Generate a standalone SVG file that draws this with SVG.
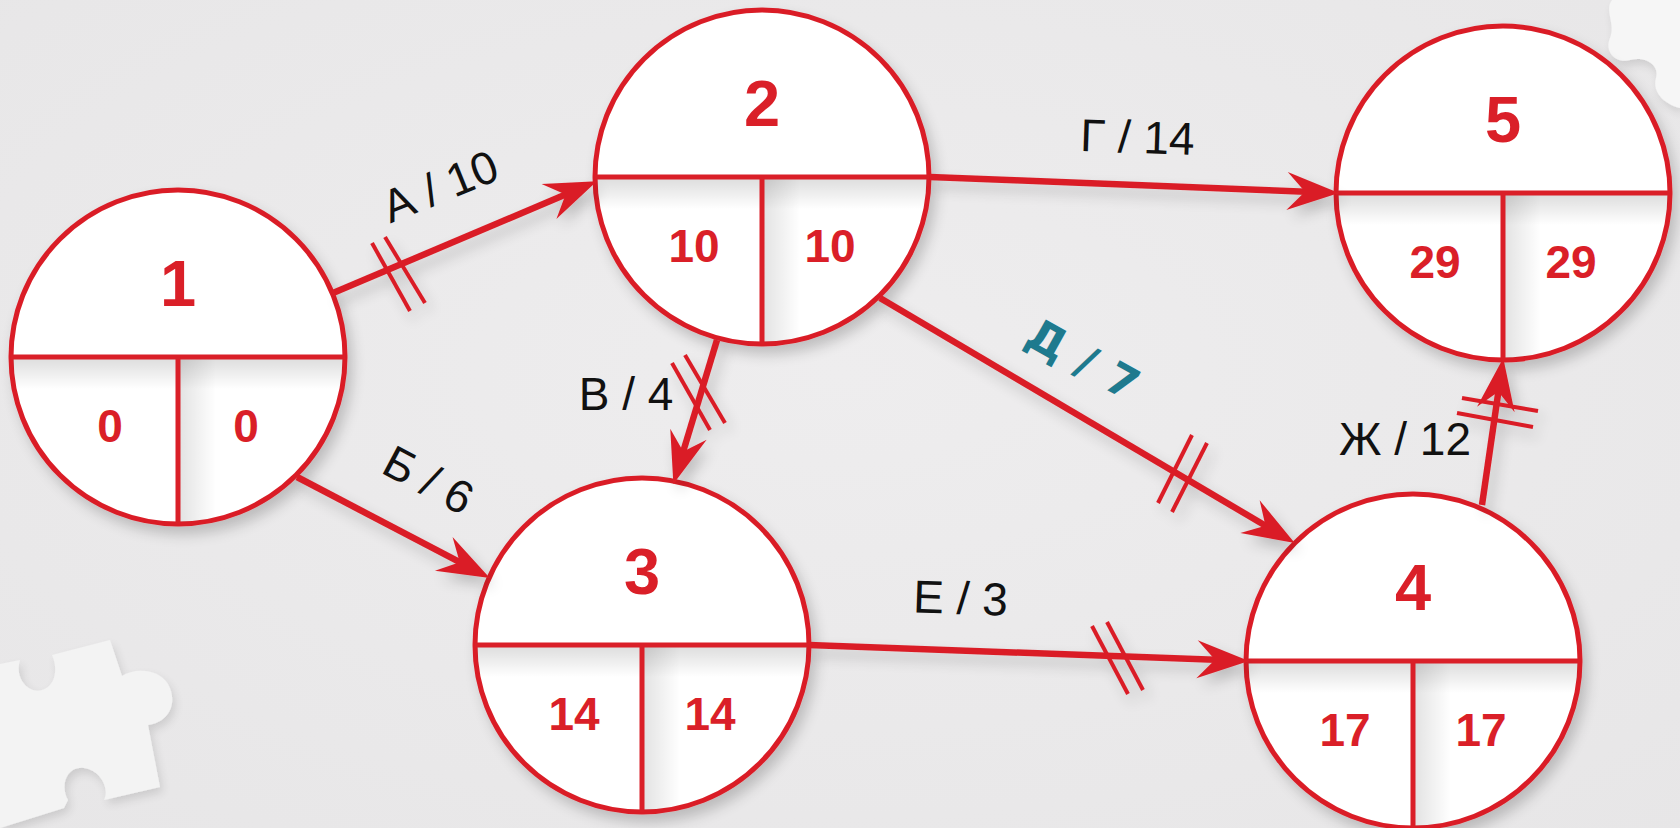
<svg xmlns="http://www.w3.org/2000/svg" width="1680" height="828" viewBox="0 0 1680 828">
  <style>
    .ring { fill: #ffffff; stroke: #DA1F28; stroke-width: 5; }
    .div { stroke: #DA1F28; stroke-width: 5; fill: none; }
    .num { font-family: "Liberation Sans", Arial, sans-serif; font-weight: bold; fill: #DA1F28; text-anchor: middle; }
    .big { font-size: 65px; }
    .small { font-size: 46px; }
    .edge { stroke: #DA1F28; stroke-width: 6.5; fill: none; }
    .tick { stroke: #DA1F28; stroke-width: 4; fill: none; }
    .lbl { font-family: "Liberation Sans", Arial, sans-serif; font-size: 46px; fill: #111111; text-anchor: middle; }
    .crit { font-family: "DejaVu Sans", "Liberation Sans", sans-serif; font-weight: bold; font-size: 44px; fill: #1E7A8E; text-anchor: middle; letter-spacing: 1px; }
  </style>
  <defs>
    <radialGradient id="bg" cx="0.5" cy="0.45" r="0.75">
      <stop offset="0" stop-color="#EEEDEE"/>
      <stop offset="1" stop-color="#E7E6E7"/>
    </radialGradient>
    <linearGradient id="shadeV" x1="0" y1="0" x2="0" y2="1">
      <stop offset="0" stop-color="#000" stop-opacity="0.13"/>
      <stop offset="1" stop-color="#000" stop-opacity="0"/>
    </linearGradient>
    <linearGradient id="shadeH" x1="0" y1="0" x2="1" y2="0">
      <stop offset="0" stop-color="#000" stop-opacity="0.11"/>
      <stop offset="1" stop-color="#000" stop-opacity="0"/>
    </linearGradient>
    <clipPath id="lower" clipPathUnits="userSpaceOnUse">
      <circle cx="0" cy="0" r="165"/>
    </clipPath>
    <filter id="soft" x="-20%" y="-20%" width="140%" height="140%">
      <feGaussianBlur in="SourceAlpha" stdDeviation="7"/>
      <feOffset dx="5" dy="8" result="b"/>
      <feComponentTransfer><feFuncA type="linear" slope="0.2"/></feComponentTransfer>
      <feMerge><feMergeNode/><feMergeNode in="SourceGraphic"/></feMerge>
    </filter>
    <filter id="piece" x="-20%" y="-20%" width="140%" height="140%">
      <feGaussianBlur in="SourceAlpha" stdDeviation="5"/>
      <feOffset dx="3" dy="5" result="b"/>
      <feComponentTransfer><feFuncA type="linear" slope="0.12"/></feComponentTransfer>
      <feMerge><feMergeNode/><feMergeNode in="SourceGraphic"/></feMerge>
    </filter>
    <marker id="ah" markerUnits="userSpaceOnUse" markerWidth="54" markerHeight="40" refX="25" refY="19" orient="auto" overflow="visible">
      <path d="M52,19 L0,0 L18,19 L0,38 Z" fill="#DA1F28"/>
    </marker>
  </defs>

  <!-- backdrop -->
  <rect x="0" y="0" width="1680" height="828" fill="url(#bg)"/>
  <g id="backdrop-pieces" filter="url(#piece)">
    <path d="M0,664 L20,660 C14,680 30,694 42,690 C56,686 58,668 52,655 L110,640 L122,676 C134,668 158,668 168,684 C178,702 170,722 148,725 L160,787 L104,800 C110,788 100,770 84,768 C66,766 60,786 68,800 L64,808 L0,828 Z" fill="#F3F3F3"/>
    <path d="M1612,0 L1680,0 L1680,108 C1664,104 1652,92 1656,78 C1660,64 1644,56 1630,60 C1616,64 1604,52 1610,38 C1616,24 1604,10 1612,0 Z" fill="#F6F6F6"/>
  </g>

  <!-- event nodes -->
  <g id="node1" transform="translate(178,357)">
    <circle class="ring" r="167" filter="url(#soft)"/>
    <g clip-path="url(#lower)">
      <rect x="-167" y="2" width="334" height="30" fill="url(#shadeV)"/>
      <rect x="2" y="2" width="36" height="167" fill="url(#shadeH)"/>
    </g>
    <line class="div" x1="-167" y1="0" x2="167" y2="0"/>
    <line class="div" x1="0" y1="0" x2="0" y2="167"/>
    <text class="num big" x="0" y="-51">1</text>
    <text class="num small" x="-68" y="85">0</text>
    <text class="num small" x="68" y="85">0</text>
  </g>

  <g id="node2" transform="translate(762,177)">
    <circle class="ring" r="167" filter="url(#soft)"/>
    <g clip-path="url(#lower)">
      <rect x="-167" y="2" width="334" height="30" fill="url(#shadeV)"/>
      <rect x="2" y="2" width="36" height="167" fill="url(#shadeH)"/>
    </g>
    <line class="div" x1="-167" y1="0" x2="167" y2="0"/>
    <line class="div" x1="0" y1="0" x2="0" y2="167"/>
    <text class="num big" x="0" y="-51">2</text>
    <text class="num small" x="-68" y="85">10</text>
    <text class="num small" x="68" y="85">10</text>
  </g>

  <g id="node3" transform="translate(642,645)">
    <circle class="ring" r="167" filter="url(#soft)"/>
    <g clip-path="url(#lower)">
      <rect x="-167" y="2" width="334" height="30" fill="url(#shadeV)"/>
      <rect x="2" y="2" width="36" height="167" fill="url(#shadeH)"/>
    </g>
    <line class="div" x1="-167" y1="0" x2="167" y2="0"/>
    <line class="div" x1="0" y1="0" x2="0" y2="167"/>
    <text class="num big" x="0" y="-51">3</text>
    <text class="num small" x="-68" y="85">14</text>
    <text class="num small" x="68" y="85">14</text>
  </g>

  <g id="node4" transform="translate(1413,661)">
    <circle class="ring" r="167" filter="url(#soft)"/>
    <g clip-path="url(#lower)">
      <rect x="-167" y="2" width="334" height="30" fill="url(#shadeV)"/>
      <rect x="2" y="2" width="36" height="167" fill="url(#shadeH)"/>
    </g>
    <line class="div" x1="-167" y1="0" x2="167" y2="0"/>
    <line class="div" x1="0" y1="0" x2="0" y2="167"/>
    <text class="num big" x="0" y="-51">4</text>
    <text class="num small" x="-68" y="85">17</text>
    <text class="num small" x="68" y="85">17</text>
  </g>

  <g id="node5" transform="translate(1503,193)">
    <circle class="ring" r="167" filter="url(#soft)"/>
    <g clip-path="url(#lower)">
      <rect x="-167" y="2" width="334" height="30" fill="url(#shadeV)"/>
      <rect x="2" y="2" width="36" height="167" fill="url(#shadeH)"/>
    </g>
    <line class="div" x1="-167" y1="0" x2="167" y2="0"/>
    <line class="div" x1="0" y1="0" x2="0" y2="167"/>
    <text class="num big" x="0" y="-51">5</text>
    <text class="num small" x="-68" y="85">29</text>
    <text class="num small" x="68" y="85">29</text>
  </g>

  <!-- activities -->
  <g id="connectors" filter="url(#soft)">
    <line class="edge" x1="333" y1="293" x2="572" y2="191.8" marker-end="url(#ah)"/>
    <line class="edge" x1="297" y1="477" x2="465.9" y2="565.4" marker-end="url(#ah)"/>
    <line class="edge" x1="717" y1="340" x2="681.2" y2="458.1" marker-end="url(#ah)"/>
    <line class="edge" x1="930" y1="177" x2="1312" y2="192" marker-end="url(#ah)"/>
    <line class="edge" x1="880" y1="298" x2="1271.5" y2="529.3" marker-end="url(#ah)"/>
    <line class="edge" x1="809" y1="645" x2="1222" y2="660.1" marker-end="url(#ah)"/>
    <line class="edge" x1="1482" y1="505" x2="1499.4" y2="384.7" marker-end="url(#ah)"/>

    <!-- critical-path ticks -->
    <line class="tick" x1="372" y1="243" x2="410" y2="311"/>
    <line class="tick" x1="385" y1="237" x2="425" y2="303"/>
    <line class="tick" x1="672" y1="363" x2="710" y2="430"/>
    <line class="tick" x1="685" y1="355" x2="725" y2="423"/>
    <line class="tick" x1="1192" y1="435" x2="1158" y2="503"/>
    <line class="tick" x1="1207" y1="443" x2="1172" y2="512"/>
    <line class="tick" x1="1462" y1="398" x2="1538" y2="411"/>
    <line class="tick" x1="1457" y1="413" x2="1533" y2="427"/>
    <line class="tick" x1="1092" y1="626" x2="1128" y2="694"/>
    <line class="tick" x1="1107" y1="622" x2="1143" y2="690"/>
  </g>

  <!-- activity labels -->
  <g id="labels">
    <text class="lbl" x="446" y="201" transform="rotate(-22 446 201)">А / 10</text>
    <text class="lbl" x="421" y="494" transform="rotate(28 421 494)">Б / 6</text>
    <text class="lbl" x="626" y="410">В / 4</text>
    <text class="lbl" x="1137" y="153" transform="rotate(2 1137 153)">Г / 14</text>
    <text class="crit" x="1076" y="373" transform="rotate(29 1076 373)">Д / 7</text>
    <text class="lbl" x="960" y="614" transform="rotate(2 960 614)">Е / 3</text>
    <text class="lbl" x="1405" y="455">Ж / 12</text>
  </g>
</svg>
